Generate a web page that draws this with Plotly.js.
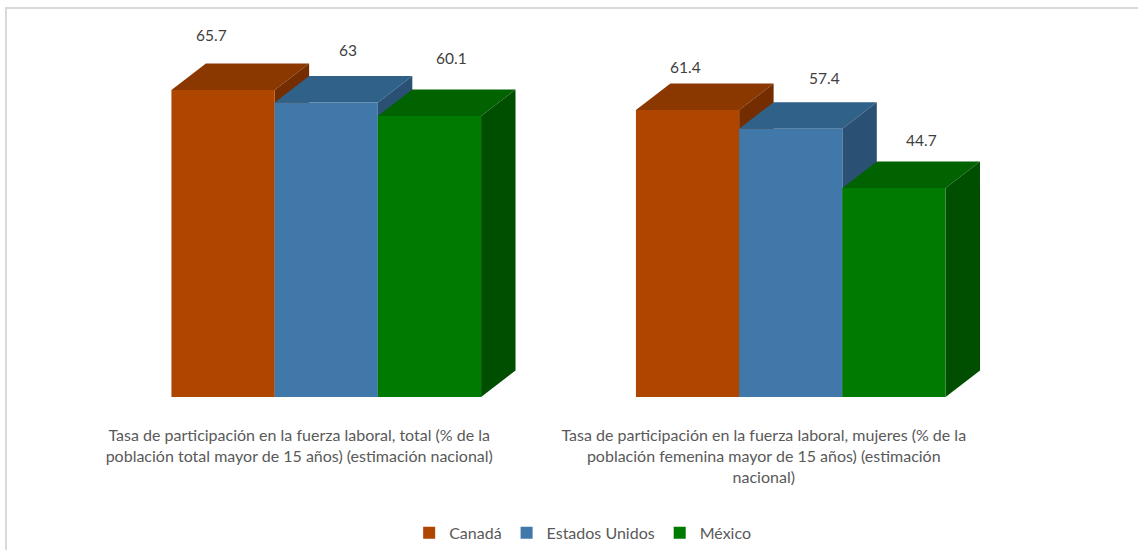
<!DOCTYPE html>
<html>
<head>
<meta charset="utf-8">
<script src="https://cdn.plot.ly/plotly-3.0.1.min.js"></script>
<style>
  html, body { margin: 0; padding: 0; background: #ffffff; }
  #chart { width: 1138px; height: 550px; position: absolute; left: 0; top: 0; }
  #frame { position: absolute; left: 5px; top: 7px; width: 1140px; height: 560px;
           border-left: 2px solid #d9d9d9; border-top: 2px solid #d9d9d9; pointer-events: none; }
</style>
</head>
<body>
<div id="chart"></div>
<div id="frame"></div>
<script>
// ---- data ----
const categories = [
  "Tasa de participación en la fuerza laboral, total (% de la<br>población total mayor de 15 años) (estimación nacional)",
  "Tasa de participación en la fuerza laboral, mujeres (% de la<br>población femenina mayor de 15 años) (estimación<br>nacional)"
];
const seriesNames = ["Canadá", "Estados Unidos", "México"];
const canada = [65.7, 61.4];
const estadosUnidos = [63, 57.4];
const mexico = [60.1, 44.7];
const seriesValues = [canada, estadosUnidos, mexico];

// ---- styles ----
const frontColors = ["#AE4600", "#4078A9", "#007A00"];
const topColors   = ["#8B3700", "#306188", "#006300"];
const sideColors  = ["#732D00", "#2A5174", "#004F00"];
// label nudges in pixels [series][category]
const labelDX = [[-12, -2], [22, 34], [22, 28]];
const labelDY = [[55, 43], [53, 51], [58, 48]];

// ---- geometry (style constants) ----
const catX = categories.map((c, i) => i);
const barW = 0.2222;
const offsets = [-0.3333, -0.1111, 0.1111];
const depthX = 0.0742;   // ~34.5 px
const depthY = 5.67;     // ~26.5 px

const textColor = "#595959";
const fontFam = "Lato, 'Open Sans', sans-serif";

const traces = seriesNames.map((name, s) => ({
  type: "bar",
  name: name,
  x: catX,
  y: seriesValues[s],
  width: catX.map(() => barW),
  offset: catX.map(() => offsets[s]),
  marker: { color: frontColors[s], line: { width: 0 } },
  hoverinfo: "name+y"
}));

const shapes = [];
catX.forEach((cx, c) => {
  seriesNames.forEach((n, s) => {
    const v = seriesValues[s][c];
    const x0 = cx + offsets[s];
    const x1 = x0 + barW;
    shapes.push({
      type: "path", xref: "x", yref: "y", layer: "below",
      path: `M${x0},${v} L${x0 + depthX},${v + depthY} L${x1 + depthX},${v + depthY} L${x1},${v} Z`,
      fillcolor: topColors[s], line: { width: 0 }
    });
    shapes.push({
      type: "path", xref: "x", yref: "y", layer: "below",
      path: `M${x1},0 L${x1},${v} L${x1 + depthX},${v + depthY} L${x1 + depthX},${depthY} Z`,
      fillcolor: sideColors[s], line: { width: 0 }
    });
  });
});

const annotations = [];
seriesNames.forEach((n, s) => {
  catX.forEach((cx, c) => {
    annotations.push({
      x: cx + offsets[s] + barW / 2, y: seriesValues[s][c],
      xref: "x", yref: "y",
      text: String(seriesValues[s][c]),
      showarrow: false,
      xanchor: "center", yanchor: "middle",
      xshift: labelDX[s][c], yshift: labelDY[s][c],
      font: { family: fontFam, size: 15.5, color: "#404040" }
    });
  });
});

const layout = {
  width: 1138, height: 550,
  margin: { l: 94, r: 115, t: 10, b: 153, autoexpand: false },
  paper_bgcolor: "#ffffff",
  plot_bgcolor: "rgba(0,0,0,0)",
  barmode: "overlay",
  showlegend: true,
  xaxis: {
    type: "linear", range: [-0.5, 1.5],
    tickvals: catX, ticktext: categories,
    showgrid: false, zeroline: false, showline: false, ticks: "",
    ticklabelshift: -27, ticklabelstandoff: 27,
    tickfont: { family: fontFam, size: 16, color: textColor }
  },
  yaxis: {
    range: [0, 82.8], visible: false, showgrid: false, zeroline: false
  },
  legend: {
    orientation: "h", xref: "container", yref: "container",
    x: 0.512, xanchor: "center", y: 0.031, yanchor: "middle",
    font: { family: fontFam, size: 16, color: textColor },
    traceorder: "normal"
  },
  shapes: shapes,
  annotations: annotations
};

Plotly.newPlot("chart", traces, layout, { displayModeBar: false, staticPlot: true });
</script>
</body>
</html>
